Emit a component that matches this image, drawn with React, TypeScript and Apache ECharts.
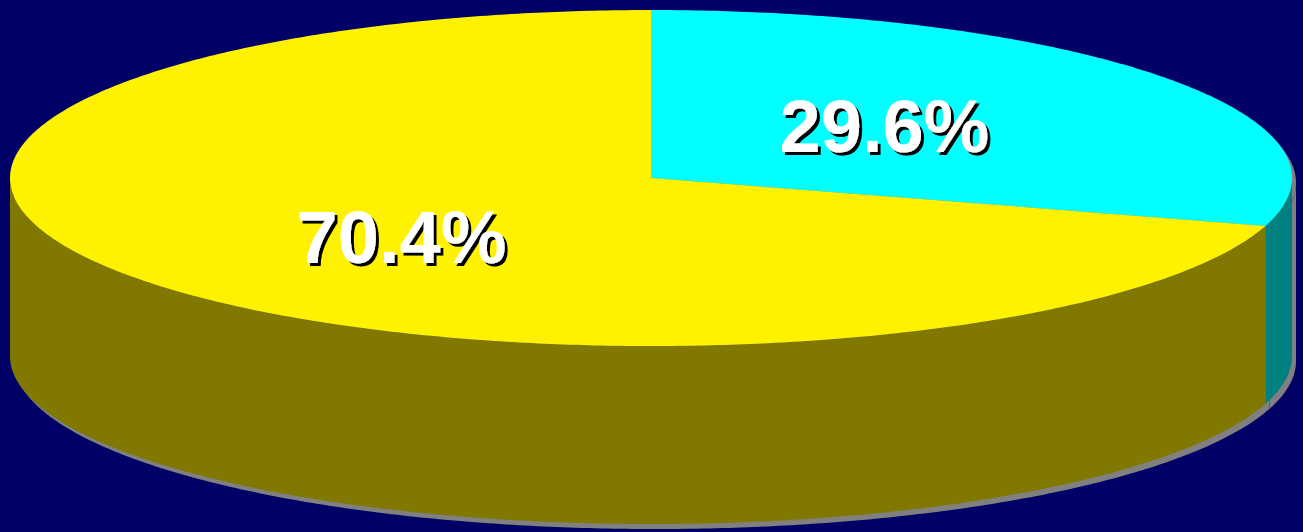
import React, { useEffect, useRef } from "react";
import * as echarts from "echarts";

const categories = ["Part A", "Part B"];
const values = [29.6, 70.4];
const labels = ["29.6%", "70.4%"];
const topColors = ["#00FFFF", "#FFF200"];
const sideColors = ["#008080", "#807800"];

const BG = "#000066";
const SHADOW = "#808080";
const CX = 651;
const CY = 178;
const RX = 641;
const RY = 168;
const DEPTH = 178;
const SHX = 4;
const SHY = 5;

function pt(a: number, dy: number, ox = 0, oy = 0): number[] {
  return [CX + RX * Math.sin(a) + ox, CY - RY * Math.cos(a) + dy + oy];
}
function arc(a0: number, a1: number, dy: number, ox = 0, oy = 0): number[][] {
  const n = Math.max(2, Math.ceil(Math.abs(a1 - a0) / 0.01));
  const out: number[][] = [];
  for (let k = 0; k <= n; k++) out.push(pt(a0 + ((a1 - a0) * k) / n, dy, ox, oy));
  return out;
}

function sliceAngles(idx: number, v: number) {
  const total = values.reduce((s, x) => s + x, 0);
  let start = 0;
  for (let j = 0; j < idx; j++) start += values[j];
  const a0 = (start / total) * Math.PI * 2;
  const a1 = ((start + v) / total) * Math.PI * 2;
  return [a0, a1];
}

function sidePoly(a0: number, a1: number, ox = 0, oy = 0): number[][] | null {
  const s = Math.max(a0, Math.PI / 2);
  const e = Math.min(a1, (Math.PI * 3) / 2);
  if (e <= s) return null;
  const top = arc(s, e, 0, ox, oy);
  const bot = arc(e, s, DEPTH, ox, oy);
  return top.concat(bot);
}

export default function App() {
  const ref = useRef<HTMLDivElement>(null);
  useEffect(() => {
    if (!ref.current) return;
    const chart = echarts.init(ref.current, undefined, { renderer: "svg" });
    const data = values.map((v, i) => ({ name: categories[i], value: v }));
    chart.setOption({
      animation: false,
      backgroundColor: BG,
      series: [
        {
          type: "custom",
          coordinateSystem: "none",
          z: 1,
          silent: true,
          data,
          renderItem: (params: any, api: any) => {
            const i = params.dataIndex;
            const [a0, a1] = sliceAngles(i, api.value(0));
            const children: any[] = [
              {
                type: "polygon",
                shape: { points: [[CX + SHX, CY + SHY]].concat(arc(a0, a1, 0, SHX, SHY)) },
                style: { fill: SHADOW },
              },
            ];
            const sp = sidePoly(a0, a1, SHX, SHY);
            if (sp) children.push({ type: "polygon", shape: { points: sp }, style: { fill: SHADOW } });
            return { type: "group", children };
          },
        },
        {
          type: "custom",
          coordinateSystem: "none",
          z: 2,
          silent: true,
          data,
          renderItem: (params: any, api: any) => {
            const i = params.dataIndex;
            const [a0, a1] = sliceAngles(i, api.value(0));
            const children: any[] = [];
            const sp = sidePoly(a0, a1);
            if (sp)
              children.push({
                type: "polygon",
                z2: 1,
                shape: { points: sp },
                style: { fill: sideColors[i] },
              });
            children.push({
              type: "polygon",
              z2: 2,
              shape: { points: [[CX, CY]].concat(arc(a0, a1, 0)) },
              style: { fill: topColors[i] },
            });
            const mid = (a0 + a1) / 2;
            const lx = CX + 0.47 * RX * Math.sin(mid) - 8;
            const ly = CY - 0.55 * RY * Math.cos(mid) + 4;
            children.push({
              type: "text",
              z2: 4,
              x: lx,
              y: ly,
              style: {
                text: labels[i],
                fill: "#FFFFFF",
                fontSize: 74,
                fontWeight: "bold",
                fontFamily: "Liberation Sans, Arial, sans-serif",
                align: "center",
                verticalAlign: "middle",
                textShadowColor: "#000000",
                textShadowBlur: 1,
                textShadowOffsetX: 3,
                textShadowOffsetY: 3,
              },
            });
            return { type: "group", children };
          },
        },
      ],
    });
    return () => chart.dispose();
  }, []);
  return (
    <div
      ref={ref}
      style={{ position: "fixed", left: 0, top: 0, width: 1303, height: 532 }}
    />
  );
}
